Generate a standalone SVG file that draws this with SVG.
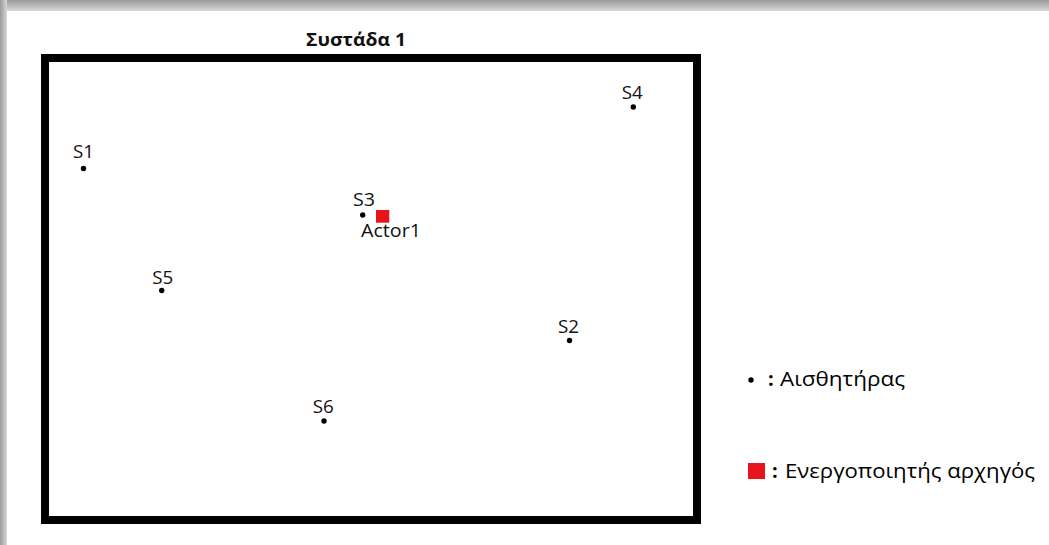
<svg xmlns="http://www.w3.org/2000/svg" width="1049" height="545" viewBox="0 0 1049 545">
<defs>
<linearGradient id="gTop" x1="0" y1="0" x2="0" y2="1"><stop offset="0" stop-color="#9a9a9a"/><stop offset="1" stop-color="#d8d8d8"/></linearGradient>
<linearGradient id="gLeft" x1="0" y1="0" x2="1" y2="0"><stop offset="0" stop-color="#9a9a9a"/><stop offset="1" stop-color="#d8d8d8"/></linearGradient>
<style>
.lbl{font-family:"Open Sans","Liberation Sans",sans-serif;font-size:18px;fill:#111;text-anchor:middle}
.leg{font-family:"Open Sans","Liberation Sans",sans-serif;font-size:20px;fill:#000}
.col{font-family:"Open Sans","Liberation Sans",sans-serif;font-size:20px;font-weight:bold;fill:#000}
.ttl{font-family:"Open Sans","Liberation Sans",sans-serif;font-size:17px;font-weight:bold;fill:#111;text-anchor:middle}
.dot{fill:#000}
.act{fill:#e8141c}
</style>
</defs>
<rect x="0" y="0" width="1049" height="545" fill="#fff"/>
<rect x="0" y="0" width="1049" height="11" fill="url(#gTop)"/>
<rect x="0" y="0" width="7" height="545" fill="url(#gLeft)"/>
<g id="cluster">
<text class="ttl" x="356" y="46" textLength="100" lengthAdjust="spacingAndGlyphs">Συστάδα 1</text>
<rect x="45" y="58" width="652" height="462" fill="none" stroke="#000" stroke-width="8"/>
</g>
<g id="S1"><circle class="dot" cx="83.5" cy="168.5" r="2.7"/><text class="lbl" x="83.5" y="158" textLength="21" lengthAdjust="spacingAndGlyphs">S1</text></g>
<g id="S4"><circle class="dot" cx="633.3" cy="107" r="2.7"/><text class="lbl" x="632.3" y="99" textLength="21" lengthAdjust="spacingAndGlyphs">S4</text></g>
<g id="S3"><circle class="dot" cx="362.7" cy="215" r="2.7"/><text class="lbl" x="364" y="206" textLength="22" lengthAdjust="spacingAndGlyphs">S3</text></g>
<g id="Actor1"><rect class="act" x="376" y="210" width="13.3" height="12.7"/><text class="lbl" x="391" y="237" textLength="60" lengthAdjust="spacingAndGlyphs">Actor1</text></g>
<g id="S5"><circle class="dot" cx="161.7" cy="290.5" r="2.7"/><text class="lbl" x="162.8" y="283.5" textLength="21" lengthAdjust="spacingAndGlyphs">S5</text></g>
<g id="S2"><circle class="dot" cx="569.5" cy="340.5" r="2.7"/><text class="lbl" x="568.5" y="333" textLength="21" lengthAdjust="spacingAndGlyphs">S2</text></g>
<g id="S6"><circle class="dot" cx="324" cy="421" r="2.7"/><text class="lbl" x="323.3" y="413" textLength="21" lengthAdjust="spacingAndGlyphs">S6</text></g>
<g id="legend">
<circle class="dot" cx="751" cy="380" r="2.7"/>
<text class="col" x="768" y="386">:</text>
<text class="leg" x="780" y="386" textLength="125" lengthAdjust="spacingAndGlyphs">Αισθητήρας</text>
<rect class="act" x="748" y="463" width="17" height="16"/>
<text class="col" x="772" y="478">:</text>
<text class="leg" x="785" y="478" textLength="250" lengthAdjust="spacingAndGlyphs">Ενεργοποιητής αρχηγός</text>
</g>
<g id="connectors"/>
</svg>
